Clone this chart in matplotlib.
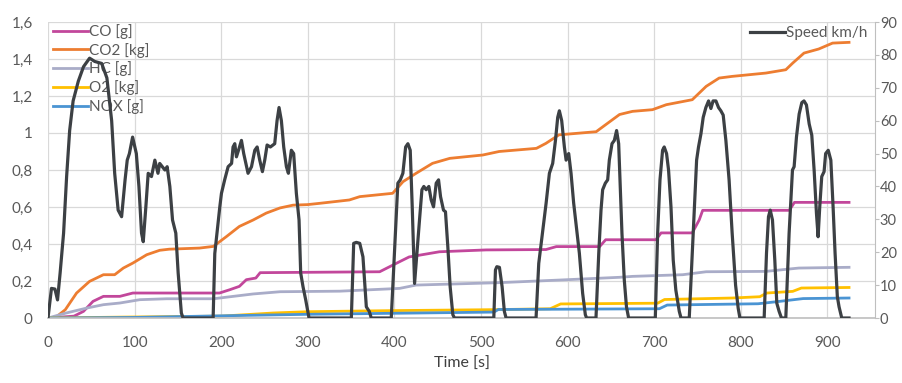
import numpy as np
import matplotlib.pyplot as plt
from matplotlib.ticker import FixedLocator, FuncFormatter

plt.rcParams['font.family'] = ['Lato', 'DejaVu Sans']

# --- datos ---
speed_t = [0, 4, 8, 11, 14, 18, 21.5, 25, 29, 35, 41, 48, 54, 62, 68, 73.5, 77, 81, 85, 89,
           91.5, 94, 97.7, 102, 105, 108, 110, 113, 115.7, 119.5, 123.4, 127, 129, 135, 137.6,
           140.7, 143.8, 147.6, 150.3, 154, 156,
           190.7, 192.6, 198.4, 200.3, 204, 208, 212, 213.7, 215.7, 217.6, 220.7, 223.4, 226,
           231, 235, 238.8, 241.5, 244.5, 247.6, 250.3, 253, 256.8, 261.8, 264.5, 266.8, 269.5,
           272.2, 275.3, 277.6, 281, 283.7, 286.8, 289.9, 291.8, 294.5, 297.6, 301.4,
           350.3, 353, 356, 360, 363.7, 367.6, 371, 373.3,
           396.4, 400, 404, 406.8, 409.8, 413, 415.6, 418.3, 420.6, 423.3, 426, 429, 431.8, 434,
           436.7, 439.8, 442.5, 445.2, 448.3, 451, 453.3, 456.7, 459, 461.7, 464.4, 467.5, 469.4,
           514.8, 516.7, 518.3, 521.3, 524.4, 527, 529,
           563.6, 566.7, 570.5, 575.2, 579, 582.8, 586, 588.6, 590.5, 593.2, 596.3, 598.3, 601.3,
           604, 607, 610, 613.6, 617.4, 620.5, 622,
           632.8, 636, 638.6, 640.5, 643.6, 646.3, 648.2, 651.3, 654, 656.6, 659, 660.5, 662.8,
           665.5, 668, 670.5,
           701.3, 704, 706.7, 709.7, 711.6, 714.3, 716.6, 719.4, 722, 725, 729, 731,
           740.5, 745, 749, 751.2, 754, 756.6, 759.7, 762.8, 765.5, 768, 771.3, 774.3, 777, 779.7,
           782.8, 786.5, 790, 794, 797, 799,
           827, 829.7, 832, 834, 836.6, 839.3, 841.6, 844.3, 847,
           852, 855.8, 859.7, 861.6, 864.3, 867.4, 870.5, 873, 875.8, 879, 882, 884.7, 887.4,
           889.3, 891.2, 893.5, 896.2, 898, 901, 904, 906.6, 908.9, 911.5, 913.5, 916.6, 925]
speed = [0, 9, 8.8, 5.5, 13.7, 25.8, 43, 57, 66, 72, 76.4, 79, 78, 77.4, 73, 60, 44, 32.8, 30.8, 42,
         48, 50, 55, 50, 40, 25.8, 23.2, 33.8, 44, 43, 48, 44, 47, 45, 46,
         40, 29.8, 25.8, 13.7, 1.5, 0,
         0, 19.6, 33.8, 37.9, 42, 46, 47, 52, 53, 49, 51.6, 54, 50,
         44, 46, 51, 52, 48, 44.5, 48, 52.6, 52, 53, 60, 64, 60,
         52, 46, 44, 51, 50, 37.9, 29.8, 13.7, 9.5, 5.5, 0,
         0, 22.7, 23, 22.7, 18.6, 3.4, 2, 0,
         0, 19.7, 41, 42, 44, 52, 53, 51, 33.8, 10.5, 19.7, 29.8, 39, 40,
         39, 40, 35.9, 33.8, 41, 42, 36.9, 32.8, 32.3, 21.7, 9.5, 1, 0,
         0, 14.6, 15.6, 15.4, 9.5, 2, 0,
         0, 16.6, 24.7, 34.9, 44, 47, 54, 61, 63, 60, 52, 48, 50,
         44, 35, 28, 19.7, 7.5, 1, 0,
         0, 19.7, 32.8, 39, 41, 42, 48, 53, 54, 57, 53, 42, 25.7,
         11.5, 3.4, 0,
         0, 25.7, 42, 51, 52, 50, 45, 33.8, 17.6, 8.5, 2, 0,
         0, 25.7, 48, 52, 56, 61, 64, 66, 63.7, 66, 66, 64, 63, 61.7,
         54, 42, 26, 10, 3, 0,
         0, 19.7, 30.8, 32.8, 29.8, 17.6, 4.5, 2, 0,
         0, 25.7, 45, 46, 55, 62, 65.5, 66, 64.8, 59, 55.6, 45, 31.8,
         24.7, 33.8, 43, 44.5, 50, 51, 48, 33.8, 19.7, 6.5, 3.4, 0, 0]

co_t = [0, 30, 41, 52, 64, 83, 98, 198, 210, 221, 229, 240, 245, 383, 402, 417, 452, 506, 575,
        587, 637, 644, 702, 708, 744, 752, 756, 856, 862, 925]
co = [0, 0.01, 0.036, 0.09, 0.117, 0.117, 0.135, 0.135, 0.153, 0.171, 0.207, 0.216, 0.245, 0.25,
      0.295, 0.33, 0.358, 0.368, 0.37, 0.386, 0.386, 0.423, 0.423, 0.46, 0.46, 0.53, 0.582, 0.582,
      0.625, 0.625]

co2_t = [0, 8, 20, 33, 48, 64, 77, 87, 98, 114, 129, 140, 175, 191, 206, 221, 237, 252, 268, 283,
         300, 314, 348, 360, 398, 410, 425, 444, 464, 502, 521, 564, 575, 590, 633, 644, 660, 675,
         698, 714, 744, 760, 775, 790, 829, 852, 860, 873, 890, 906, 925]
co2 = [0, 0, 0.045, 0.135, 0.198, 0.234, 0.234, 0.27, 0.297, 0.342, 0.366, 0.372, 0.378, 0.387,
       0.44, 0.495, 0.53, 0.567, 0.595, 0.61, 0.613, 0.62, 0.638, 0.656, 0.674, 0.737, 0.782, 0.836,
       0.863, 0.881, 0.9, 0.917, 0.944, 0.99, 1.007, 1.045, 1.1, 1.117, 1.126, 1.153, 1.18, 1.252,
       1.297, 1.306, 1.324, 1.342, 1.378, 1.432, 1.454, 1.486, 1.49]

hc_t = [0, 21, 45, 64, 83, 106, 137, 191, 214, 237, 268, 337, 406, 425, 521, 590, 660, 675, 733,
        760, 829, 867, 925]
hc = [0, 0.027, 0.054, 0.072, 0.081, 0.099, 0.104, 0.104, 0.117, 0.13, 0.142, 0.145, 0.16, 0.178,
      0.191, 0.205, 0.22, 0.225, 0.234, 0.25, 0.252, 0.27, 0.274]

o2_t = [0, 90, 200, 260, 300, 400, 513, 580, 592, 704, 712, 790, 822, 830, 860, 870, 925]
o2 = [0, 0.005, 0.01, 0.027, 0.034, 0.04, 0.045, 0.05, 0.076, 0.08, 0.1, 0.108, 0.115, 0.135,
      0.144, 0.162, 0.165]

nox_t = [0, 100, 214, 300, 444, 515, 520, 706, 715, 820, 845, 872, 925]
nox = [0, 0.003, 0.013, 0.02, 0.028, 0.032, 0.046, 0.05, 0.07, 0.077, 0.09, 0.105, 0.108]

left_ticks = [0, 0.2, 0.4, 0.6, 0.8, 1.0, 1.2, 1.4, 1.6]
right_ticks = [0, 10, 20, 30, 40, 50, 60, 70, 80, 90]
x_ticks = [0, 100, 200, 300, 400, 500, 600, 700, 800, 900]

# --- figura ---
fig = plt.figure(figsize=(9.02, 3.83), dpi=100)
ax = fig.add_axes([48/902, 1 - 318/383, 827/902, 296/383])
ax2 = ax.twinx()

txt = '#595959'
grid = '#d9d9d9'

ax.plot(co_t, co, color='#c2479b', lw=2.0, label='CO [g]')
ax.plot(co2_t, co2, color='#ed7d31', lw=2.0, label='CO2 [kg]')
ax.plot(hc_t, hc, color='#a9acc8', lw=2.0, label='HC [g]')
ax.plot(o2_t, o2, color='#ffc000', lw=2.0, label='O2 [kg]')
ax.plot(nox_t, nox, color='#4a94d3', lw=2.0, label='NOX [g]')
ax2.plot(speed_t, speed, color='#3c4044', lw=2.3, label='Speed km/h')

ax.set_xlim(0, 955)
ax.set_ylim(0, 1.6)
ax2.set_ylim(0, 90)

ax.xaxis.set_major_locator(FixedLocator(x_ticks))
ax.yaxis.set_major_locator(FixedLocator(left_ticks))
ax2.yaxis.set_major_locator(FixedLocator(right_ticks))
ax.yaxis.set_major_formatter(FuncFormatter(lambda v, p: ('%g' % round(v, 1)).replace('.', ',')))

ax.grid(True, color=grid, lw=0.9)
ax.set_axisbelow(True)
for s in ['top', 'left', 'right']:
    ax.spines[s].set_visible(False)
ax.spines['bottom'].set_color('#bfbfbf')
ax.spines['bottom'].set_linewidth(1.2)
for s in ['top', 'left', 'bottom']:
    ax2.spines[s].set_visible(False)
ax2.spines['right'].set_color('#bfbfbf')

ax.tick_params(axis='x', length=0, pad=13, labelsize=11, labelcolor=txt)
ax.tick_params(axis='y', length=0, pad=11, labelsize=11, labelcolor=txt)
# etiquetas de la derecha algo más juntas para que quepan en el borde
ax2.tick_params(axis='y', length=3, width=0.8, color='#bfbfbf', pad=0.5, labelsize=10.5, labelcolor=txt)

ax.set_xlabel('Time [s]', fontsize=11.5, color='#404040', labelpad=5)

leg1 = ax.legend(loc='upper left', bbox_to_anchor=(5/827, 1 - 2/296), frameon=False,
                 fontsize=11, handlelength=2.3, handletextpad=0.05, labelspacing=0.25,
                 borderpad=0, borderaxespad=0)
for t in leg1.get_texts():
    t.set_color(txt)
leg2 = ax2.legend(loc='upper right', bbox_to_anchor=(1 - 8/827, 1 - 4/296), frameon=False,
                  fontsize=11, handlelength=2.3, handletextpad=0.05,
                  borderpad=0, borderaxespad=0)
for t in leg2.get_texts():
    t.set_color(txt)

fig.savefig('out.png', dpi=100)
